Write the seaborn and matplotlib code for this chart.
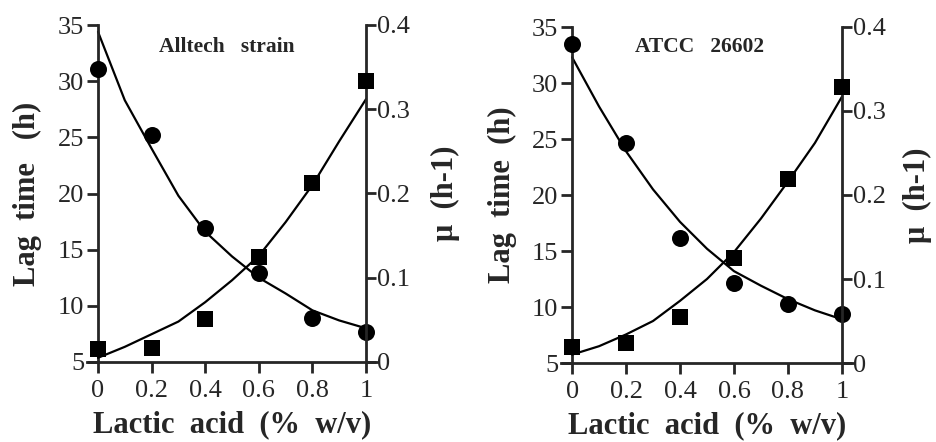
import numpy as np
import pandas as pd
import seaborn as sns
import matplotlib
matplotlib.use("Agg")
import matplotlib.pyplot as plt

sns.set_style("ticks")
plt.rcParams['font.family'] = ['Liberation Serif', 'DejaVu Serif']

# measured points
lactic = [0, 0.2, 0.4, 0.6, 0.8, 1.0]
lag_alltech = [31.1, 25.2, 16.9, 12.9, 8.95, 7.7]
mu_alltech = [0.016, 0.017, 0.051, 0.125, 0.212, 0.333]
lag_atcc = [33.5, 24.6, 16.2, 12.1, 10.3, 9.35]
mu_atcc = [0.0186, 0.024, 0.055, 0.125, 0.219, 0.328]

# fitted curves
x_fit = [0, 0.1, 0.2, 0.3, 0.4, 0.5, 0.6, 0.7, 0.8, 0.9, 1.0]
lag_fit_alltech = [34.4, 28.3, 24.0, 19.8, 16.6, 14.4, 12.5, 11.1, 9.6, 8.7, 8.0]
mu_fit_alltech = [0.005, 0.018, 0.033, 0.048, 0.071, 0.097, 0.126, 0.166, 0.210, 0.262, 0.312]
lag_fit_atcc = [32.3, 27.9, 23.9, 20.5, 17.6, 15.2, 13.2, 11.9, 10.7, 9.7, 8.9]
mu_fit_atcc = [0.010, 0.020, 0.034, 0.050, 0.074, 0.100, 0.132, 0.172, 0.216, 0.262, 0.317]

x_ticks = [0, 0.2, 0.4, 0.6, 0.8, 1]
x_ticklabels = ['0', '0.2', '0.4', '0.6', '0.8', '1']
lag_ticks = [5, 10, 15, 20, 25, 30, 35]
mu_ticks = [0, 0.1, 0.2, 0.3, 0.4]
mu_ticklabels = ['0', '0.1', '0.2', '0.3', '0.4']

panels = [
    ("Alltech   strain", "Lag  time   (h)", lag_alltech, mu_alltech, lag_fit_alltech, mu_fit_alltech,
     [87 / 936, 80 / 442, 290 / 936, 337 / 442], (0.483, 0.935), 15),
    ("ATCC   26602", "Lag  time  (h)", lag_atcc, mu_atcc, lag_fit_atcc, mu_fit_atcc,
     [561 / 936, 79 / 442, 292 / 936, 336 / 442], (0.476, 0.94), 12),
]

fig = plt.figure(figsize=(9.36, 4.42), dpi=100)
lw = 2.0

for title, ylab, lag, mu, lag_fit, mu_fit, rect, tpos, rpad in panels:
    ax = fig.add_axes(rect)
    ax2 = ax.twinx()

    pts = pd.DataFrame({'x': lactic, 'lag': lag, 'mu': mu})
    fit = pd.DataFrame({'x': x_fit, 'lag': lag_fit, 'mu': mu_fit})

    sns.lineplot(data=fit, x='x', y='lag', ax=ax, color='black', lw=1.6)
    sns.scatterplot(data=pts, x='x', y='lag', ax=ax, color='black', marker='o',
                    s=150, edgecolor='black', linewidth=0, zorder=5)
    sns.lineplot(data=fit, x='x', y='mu', ax=ax2, color='black', lw=1.6)
    sns.scatterplot(data=pts, x='x', y='mu', ax=ax2, color='black', marker='s',
                    s=140, edgecolor='black', linewidth=0, zorder=5)

    ax.set_xlim(-0.041, 1.041)
    ax.set_ylim(5, 35)
    ax2.set_ylim(0, 0.4)

    ax.spines['left'].set_position(('data', 0))
    ax.spines['top'].set_visible(False)
    ax.spines['right'].set_visible(False)
    ax2.spines['right'].set_position(('data', 1))
    for s in ['left', 'top', 'bottom']:
        ax2.spines[s].set_visible(False)
    for s in ['left', 'bottom']:
        ax.spines[s].set_linewidth(lw)
    ax2.spines['right'].set_linewidth(lw)

    ax.set_xticks(x_ticks)
    ax.set_xticklabels(x_ticklabels)
    ax.set_yticks(lag_ticks)
    ax2.set_yticks(mu_ticks)
    ax2.set_yticklabels(mu_ticklabels)

    ax.tick_params(axis='x', labelsize=19, width=lw, length=8, pad=5, direction='out')
    ax.tick_params(axis='y', labelsize=19, width=lw, length=8, pad=2, direction='out')
    ax2.tick_params(axis='y', labelsize=19, width=lw, length=7, pad=1, direction='out')

    ax.set_xlabel('Lactic  acid  (%  w/v)', fontsize=22, fontweight='bold', labelpad=6)
    ax.set_ylabel(ylab, fontsize=22, fontweight='bold', labelpad=11)
    ax2.set_ylabel('μ  (h-1)', fontsize=22, fontweight='bold', labelpad=rpad)

    ax.text(tpos[0], tpos[1], title, transform=ax.transAxes, ha='center', va='center',
            fontsize=15.5, fontweight='bold')

fig.savefig('out.png', dpi=100)
